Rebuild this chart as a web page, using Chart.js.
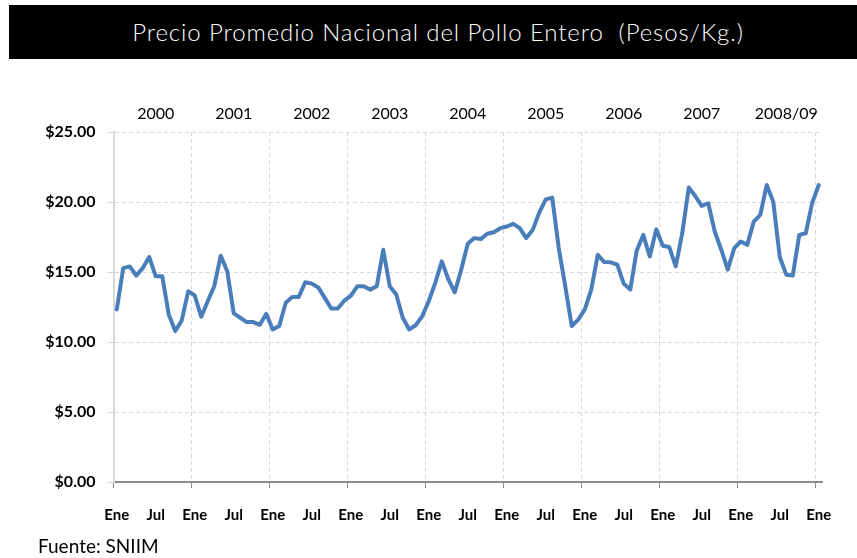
<!DOCTYPE html>
<html lang="es">
<head>
    <meta charset="UTF-8">
    <title>Precio Promedio Nacional del Pollo Entero</title>
    <script src="https://cdn.jsdelivr.net/npm/chart.js"></script>
    <style>
        html, body { margin: 0; padding: 0; background: #fff; }
        body { width: 857px; height: 558px; position: relative; overflow: hidden; font-family: 'Lato', 'Open Sans', sans-serif; }
        .title-bar {
            position: absolute; left: 9px; top: 5px; width: 848px; height: 54px;
            background: #000; color: #fff; font-size: 24px; font-weight: 300; letter-spacing: 0.9px;
            text-align: center; line-height: 54px; padding-left: 10px; box-sizing: border-box;
            white-space: pre;
        }
        .chart-box { position: absolute; left: 0; top: 60px; width: 857px; height: 490px; }
        .source { position: absolute; left: 38px; top: 534px; font-size: 19px; color: #000; }
    </style>
</head>
<body>
    <div class="title-bar">Precio Promedio Nacional del Pollo Entero  (Pesos/Kg.)</div>
    <div class="chart-box"><canvas id="polloChart"></canvas></div>
    <div class="source">Fuente: SNIIM</div>

    <script>
        // Precio mensual (pesos/kg), Ene 2000 - Ene 2009
        const p2000 = [12.32, 15.28, 15.40, 14.74, 15.28, 16.07, 14.69, 14.69, 11.97, 10.78, 11.54, 13.63];
        const p2001 = [13.32, 11.80, 12.91, 13.98, 16.16, 15.05, 12.04, 11.73, 11.42, 11.42, 11.23, 12.01];
        const p2002 = [10.90, 11.14, 12.80, 13.22, 13.22, 14.27, 14.17, 13.90, 13.15, 12.39, 12.39, 12.95];
        const p2003 = [13.30, 13.98, 13.98, 13.74, 13.98, 16.59, 13.98, 13.39, 11.73, 10.90, 11.20, 11.85];
        const p2004 = [12.91, 14.22, 15.76, 14.50, 13.55, 15.17, 17.01, 17.42, 17.35, 17.73, 17.84, 18.13];
        const p2005 = [18.25, 18.44, 18.13, 17.42, 18.01, 19.24, 20.19, 20.31, 16.71, 13.98, 11.14, 11.60];
        const p2006 = [12.32, 13.74, 16.23, 15.71, 15.69, 15.52, 14.17, 13.74, 16.54, 17.65, 16.11, 18.06];
        const p2007 = [16.87, 16.78, 15.40, 17.77, 21.04, 20.43, 19.72, 19.91, 17.89, 16.59, 15.17, 16.71];
        const p2008 = [17.18, 16.94, 18.60, 19.08, 21.21, 20.02, 16.07, 14.81, 14.74, 17.65, 17.77, 19.95];
        const p2009 = [21.21];

        const monthLabels = ['Ene', 'Jul'];
        const yearLabels = ['2000', '2001', '2002', '2003', '2004', '2005', '2006', '2007', '2008/09'];
        const yearTickMonths = [6, 18, 30, 42, 54, 66, 78, 90, 103];
        const yTicks = [0, 5, 10, 15, 20, 25];

        const prices = [].concat(p2000, p2001, p2002, p2003, p2004, p2005, p2006, p2007, p2008, p2009);
        const points = prices.map((v, i) => ({ x: i, y: v }));
        const lastIndex = prices.length - 1;

        const gridGray = '#d9d9d9';

        const ctx = document.getElementById('polloChart').getContext('2d');
        const polloChart = new Chart(ctx, {
            type: 'line',
            data: {
                datasets: [{
                    label: 'Precio',
                    data: points,
                    borderColor: '#4a7ebb',
                    borderWidth: 4,
                    pointRadius: 0,
                    tension: 0,
                    borderJoinStyle: 'round',
                    borderCapStyle: 'round'
                }]
            },
            options: {
                responsive: true,
                maintainAspectRatio: false,
                animation: false,
                layout: { padding: { left: 0, right: 35, top: 0, bottom: 0 } },
                plugins: { legend: { display: false }, tooltip: { enabled: false } },
                scales: {
                    x: {
                        type: 'linear',
                        position: 'bottom',
                        min: -0.5,
                        max: lastIndex + 0.5,
                        afterBuildTicks: (scale) => {
                            const t = [];
                            for (let m = 0; m <= lastIndex; m += 6) t.push({ value: m - 0.5 });
                            scale.ticks = t;
                        },
                        afterFit: (scale) => { scale.height = 68; },
                        grid: {
                            color: (c) => (c.index % 2 === 0 ? gridGray : 'rgba(0,0,0,0)'),
                            tickColor: (c) => (c.index % 2 === 0 ? '#8c8c8c' : 'rgba(0,0,0,0)'),
                            tickLength: 6,
                            lineWidth: 1
                        },
                        border: { display: true, color: '#8c8c8c', width: 2, dash: [4, 3] },
                        ticks: {
                            autoSkip: false,
                            maxRotation: 0,
                            labelOffset: 3.25,
                            padding: 18,
                            color: '#000',
                            font: { family: 'Lato', weight: 'bold', size: 15 },
                            callback: (v, i) => monthLabels[i % 2]
                        }
                    },
                    xTop: {
                        type: 'linear',
                        position: 'top',
                        min: -0.5,
                        max: lastIndex + 0.5,
                        afterBuildTicks: (scale) => {
                            scale.ticks = yearTickMonths.map(m => ({ value: m }));
                        },
                        afterFit: (scale) => { scale.height = 72; },
                        grid: { display: false, drawTicks: false },
                        border: { display: false },
                        ticks: {
                            autoSkip: false,
                            maxRotation: 0,
                            padding: 9,
                            color: '#000',
                            font: { family: 'Lato', size: 16 },
                            callback: (v, i) => yearLabels[i]
                        }
                    },
                    y: {
                        min: 0,
                        max: 25,
                        afterBuildTicks: (scale) => {
                            scale.ticks = yTicks.map(v => ({ value: v }));
                        },
                        afterFit: (scale) => { scale.width = 113.5; },
                        grid: { color: gridGray, tickColor: gridGray, tickLength: 6 },
                        border: { display: true, color: gridGray, width: 2, dash: [4, 3] },
                        ticks: {
                            padding: 12,
                            color: '#000',
                            font: { family: 'Lato', weight: 'bold', size: 16 },
                            callback: (v) => '$' + Number(v).toFixed(2)
                        }
                    }
                }
            }
        });
    </script>
</body>
</html>
